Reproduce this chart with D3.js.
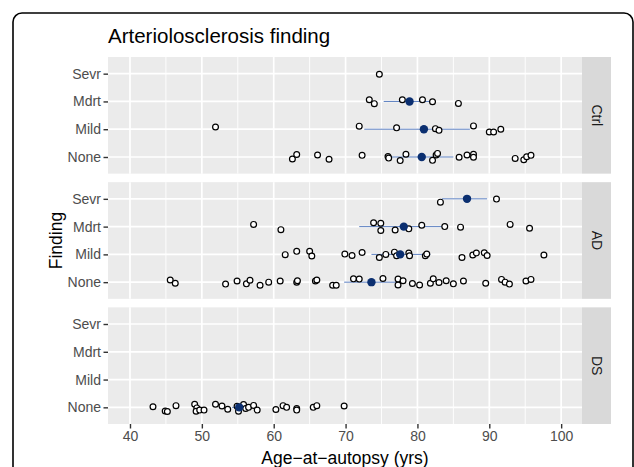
<!DOCTYPE html>
<html>
<head>
<meta charset="utf-8">
<script src="https://cdn.jsdelivr.net/npm/d3@7"></script>
<style>
  body { margin: 0; background: #fff; }
  svg text { font-family: "Liberation Sans", Arial, sans-serif; }
</style>
</head>
<body>
<div id="chart"></div>
<script>
// facet groups and finding levels (bottom to top)
const groups = ['Ctrl', 'AD', 'DS'];
const findings = ['None', 'Mild', 'Mdrt', 'Sevr'];
const xTicks = [40, 50, 60, 70, 80, 90, 100];
const xMinor = [45, 55, 65, 75, 85, 95];

// individual cases: [age, vertical jitter in rows]
const ctrlNone = [[62.6, -0.07], [63.2, 0.09], [66.1, 0.07], [67.7, -0.08], [72.3, 0.06], [75.9, 0.02],
  [76.0, -0.04], [77.6, -0.13], [78.4, 0.10], [82.1, -0.12], [82.6, 0.07], [82.8, 0.13], [85.8, -0.01],
  [86.9, 0.07], [87.8, 0.10], [87.8, -0.01], [93.6, -0.05], [94.8, -0.10], [95.2, 0.01], [95.8, 0.06]];
const ctrlMild = [[51.9, 0.08], [71.9, 0.11], [77.1, 0.05], [82.5, 0.02], [83.0, -0.04], [87.8, 0.12],
  [90.0, -0.10], [90.6, -0.10], [91.6, 0.0]];
const ctrlMdrt = [[73.3, 0.06], [74.0, -0.08], [77.9, 0.06], [80.7, 0.06], [82.1, -0.01], [85.7, -0.07]];
const ctrlSevr = [[74.7, -0.02]];

const adNone = [[45.6, 0.08], [46.3, -0.04], [53.3, -0.07], [54.9, 0.04], [56.2, -0.06], [56.7, 0.07],
  [58.1, -0.11], [59.3, 0.0], [60.9, 0.04], [63.2, 0.0], [63.3, 0.05], [65.8, 0.04], [66.0, 0.08],
  [68.2, -0.11], [68.7, -0.11], [71.1, 0.12], [71.9, 0.11], [75.2, 0.13], [77.3, 0.11], [77.3, -0.10],
  [78.0, 0.05], [79.3, -0.05], [80.3, -0.10], [81.8, -0.04], [82.2, 0.12], [83.0, -0.01], [84.0, 0.05],
  [85.0, -0.06], [86.4, 0.04], [89.5, -0.04], [91.7, 0.10], [92.2, 0.0], [92.8, -0.07], [95.1, 0.04],
  [95.8, 0.10]];
const adMild = [[61.6, -0.01], [63.2, 0.11], [65.0, 0.11], [65.3, -0.06], [69.9, 0.01], [70.9, -0.04],
  [72.3, 0.07], [74.7, -0.11], [75.6, 0.0], [76.8, 0.08], [77.1, -0.05], [78.8, 0.05], [78.9, -0.05],
  [81.1, -0.05], [81.3, 0.01], [86.2, -0.11], [87.7, -0.02], [88.2, 0.05], [89.3, 0.06], [89.7, -0.04],
  [97.6, -0.02]];
const adMdrt = [[57.2, 0.08], [61.0, -0.11], [73.9, 0.14], [74.9, 0.12], [74.9, -0.14], [76.9, -0.12],
  [78.8, -0.08], [80.6, 0.05], [83.8, 0.0], [86.0, -0.02], [92.9, 0.08], [95.6, -0.06]];
const adSevr = [[83.2, -0.12], [91.0, -0.01]];

const dsNone = [[43.2, 0.02], [44.9, -0.13], [45.2, -0.15], [46.4, 0.06], [49.0, 0.11], [49.3, -0.02],
  [49.2, -0.14], [49.7, -0.10], [50.3, -0.10], [51.9, 0.11], [52.8, 0.05], [53.6, -0.07], [54.9, 0.04],
  [55.1, -0.14], [55.8, 0.10], [56.1, -0.04], [56.5, 0.0], [57.2, 0.07], [57.7, -0.10], [60.3, -0.08],
  [61.3, 0.06], [61.8, 0.0], [63.2, -0.04], [63.2, -0.10], [65.5, 0.0], [66.0, 0.06], [69.8, 0.05]];

// group means with interval ends
const meanGroup = ['Ctrl', 'Ctrl', 'Ctrl', 'AD', 'AD', 'AD', 'AD', 'DS'];
const meanFinding = ['None', 'Mild', 'Mdrt', 'None', 'Mild', 'Mdrt', 'Sevr', 'None'];
const meanAge = [80.6, 80.9, 78.9, 73.6, 77.6, 78.1, 86.9, 55.2];
const meanLow = [76.4, 72.6, 75.3, 69.8, 73.6, 71.9, 83.4, 54.2];
const meanHigh = [85.0, 87.3, 81.8, 77.1, 81.8, 83.4, 89.7, 56.3];

const cases = [
  ['Ctrl', 'None', ctrlNone], ['Ctrl', 'Mild', ctrlMild], ['Ctrl', 'Mdrt', ctrlMdrt], ['Ctrl', 'Sevr', ctrlSevr],
  ['AD', 'None', adNone], ['AD', 'Mild', adMild], ['AD', 'Mdrt', adMdrt], ['AD', 'Sevr', adSevr],
  ['DS', 'None', dsNone]
].flatMap(([g, f, pts]) => pts.map(p => ({group: g, finding: f, age: p[0], jit: p[1]})));

const means = meanAge.map((v, i) => ({group: meanGroup[i], finding: meanFinding[i], age: v, lo: meanLow[i], hi: meanHigh[i]}));

const width = 634;
const height = 467;
const plotLeft = 108;
const plotRight = 582;
const stripWidth = 29;
const panelTop = 57;
const panelBottom = 424;

const svg = d3.select('#chart').append('svg')
  .attr('width', width)
  .attr('height', height);

// outer rounded frame
svg.append('rect')
  .attr('x', 13).attr('y', 13)
  .attr('width', 620).attr('height', 480)
  .attr('rx', 9)
  .attr('fill', 'none')
  .attr('stroke', '#000')
  .attr('stroke-width', 1.6);

const x = d3.scaleLinear().domain([36.94, 102.9]).range([plotLeft, plotRight]);

const panelScale = d3.scaleBand()
  .domain(groups)
  .range([panelTop, panelBottom])
  .paddingInner(0.068);

const bw = panelScale.bandwidth();

const y = d3.scalePoint()
  .domain(findings)
  .range([bw, 0])
  .padding(0.6);

svg.append('text')
  .attr('x', plotLeft)
  .attr('y', 43)
  .attr('font-size', 20.5)
  .attr('fill', '#000')
  .text('Arteriolosclerosis finding');

groups.forEach(g => {
  const top = panelScale(g);
  const panel = svg.append('g').attr('transform', `translate(0, ${top})`);

  panel.append('rect')
    .attr('x', plotLeft).attr('y', 0)
    .attr('width', plotRight - plotLeft).attr('height', bw)
    .attr('fill', '#ebebeb');

  panel.selectAll('.minor').data(xMinor).enter().append('line')
    .attr('x1', d => x(d)).attr('x2', d => x(d))
    .attr('y1', 0).attr('y2', bw)
    .attr('stroke', '#fff').attr('stroke-width', 0.9);

  panel.selectAll('.vmajor').data(xTicks).enter().append('line')
    .attr('x1', d => x(d)).attr('x2', d => x(d))
    .attr('y1', 0).attr('y2', bw)
    .attr('stroke', '#fff').attr('stroke-width', 1.7);

  panel.selectAll('.hmajor').data(findings).enter().append('line')
    .attr('x1', plotLeft).attr('x2', plotRight)
    .attr('y1', d => y(d)).attr('y2', d => y(d))
    .attr('stroke', '#fff').attr('stroke-width', 1.7);

  // strip
  panel.append('rect')
    .attr('x', plotRight).attr('y', 0)
    .attr('width', stripWidth).attr('height', bw)
    .attr('fill', '#d9d9d9');

  panel.append('text')
    .attr('transform', `translate(${plotRight + stripWidth / 2}, ${bw / 2}) rotate(90)`)
    .attr('text-anchor', 'middle')
    .attr('dy', '0.35em')
    .attr('font-size', 14)
    .attr('fill', '#1a1a1a')
    .text(g);

  // y axis
  const yAxis = panel.append('g')
    .attr('transform', `translate(${plotLeft}, 0)`)
    .call(d3.axisLeft(y).tickSize(4.5).tickPadding(2.5));
  yAxis.select('.domain').remove();
  yAxis.selectAll('line').attr('stroke', '#333').attr('stroke-width', 1.4);
  yAxis.selectAll('text')
    .attr('font-size', 14)
    .attr('fill', '#4d4d4d')
    .style('font-family', '"Liberation Sans", Arial, sans-serif');

  const step = y.step();

  panel.selectAll('.err').data(means.filter(d => d.group === g)).enter().append('line')
    .attr('x1', d => x(d.lo)).attr('x2', d => x(d.hi))
    .attr('y1', d => y(d.finding)).attr('y2', d => y(d.finding))
    .attr('stroke', '#5b7fc0').attr('stroke-width', 1);

  panel.selectAll('.pt').data(cases.filter(d => d.group === g)).enter().append('circle')
    .attr('cx', d => x(d.age))
    .attr('cy', d => y(d.finding) - d.jit * step)
    .attr('r', 2.9)
    .attr('fill', '#fff')
    .attr('stroke', '#000')
    .attr('stroke-width', 1.2);

  panel.selectAll('.mean').data(means.filter(d => d.group === g)).enter().append('circle')
    .attr('cx', d => x(d.age))
    .attr('cy', d => y(d.finding))
    .attr('r', 4.2)
    .attr('fill', '#0b2f70');
});

// x axis
const xAxis = svg.append('g')
  .attr('transform', `translate(0, ${panelBottom})`)
  .call(d3.axisBottom(x).tickValues(xTicks).tickSize(4.5).tickPadding(3));
xAxis.select('.domain').remove();
xAxis.selectAll('line').attr('stroke', '#333').attr('stroke-width', 1.4);
xAxis.selectAll('text')
  .attr('font-size', 14)
  .attr('fill', '#4d4d4d')
  .style('font-family', '"Liberation Sans", Arial, sans-serif');

svg.append('text')
  .attr('x', (plotLeft + plotRight) / 2)
  .attr('y', 464)
  .attr('text-anchor', 'middle')
  .attr('font-size', 17.5)
  .attr('fill', '#000')
  .text('Age\u2212at\u2212autopsy (yrs)');

svg.append('text')
  .attr('transform', `translate(62, ${(panelTop + panelBottom) / 2}) rotate(-90)`)
  .attr('text-anchor', 'middle')
  .attr('font-size', 17.5)
  .attr('fill', '#000')
  .text('Finding');
</script>
</body>
</html>
